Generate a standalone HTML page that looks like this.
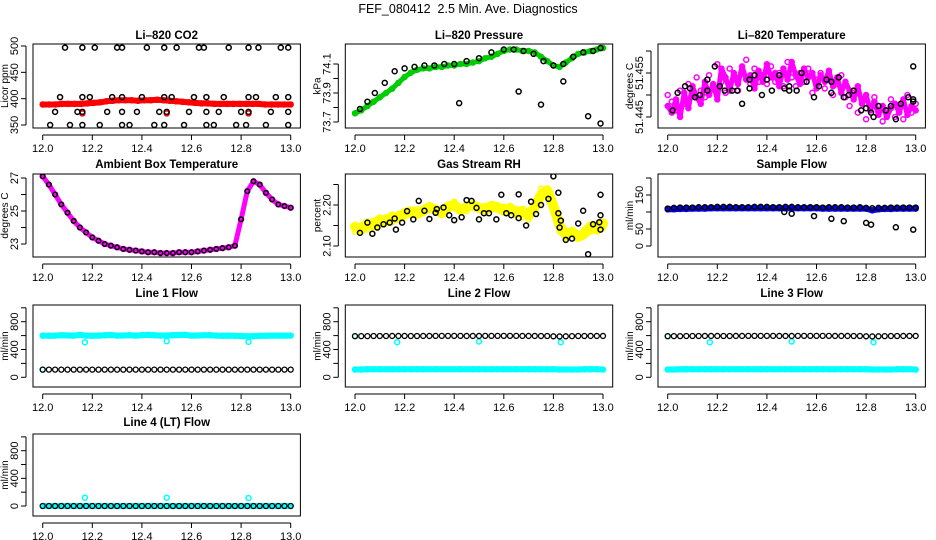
<!DOCTYPE html>
<html><head><meta charset="utf-8"><style>
html,body{margin:0;padding:0;background:#fff}
svg{display:block;font-family:"Liberation Sans",sans-serif}
</style></head><body>
<svg id="c" width="936" height="540" xmlns="http://www.w3.org/2000/svg">
<text x="468" y="13" text-anchor="middle" font-size="12.5">FEF_080412&#160; 2.5 Min. Ave. Diagnostics</text>
</svg>
<script>
// ---- data ----
const xTicks = [12.0, 12.2, 12.4, 12.6, 12.8, 13.0];
const xTickLabels = ["12.0", "12.2", "12.4", "12.6", "12.8", "13.0"];

const co2Red = [389,389,389,390,390,390,390,391,392,393,395,396,397,397,397,396,397,397,398,397,396,395,394,393,392,391,391,390,390,390,390,390,390,390,390,389,389,389,389,389];
const co2BlackX = [12.09,12.16,12.21,12.30,12.32,12.42,12.49,12.54,12.63,12.65,12.75,12.83,12.87,12.96,12.99,
 12.07,12.16,12.19,12.28,12.32,12.40,12.49,12.52,12.61,12.66,12.73,12.83,12.86,12.94,12.99,
 12.05,12.14,12.16,12.26,12.32,12.38,12.47,12.50,12.59,12.66,12.71,12.80,12.83,12.92,12.99,
 12.03,12.11,12.16,12.23,12.32,12.35,12.45,12.49,12.57,12.66,12.69,12.78,12.82,12.90,12.99];
const co2BlackY = [497,497,497,497,497,497,497,497,497,497,497,497,497,497,497,
 403,403,403,403,403,403,403,403,403,403,403,403,403,403,403,
 375,375,375,375,375,375,375,375,375,375,375,375,375,375,375,
 350,350,350,350,350,350,350,350,350,350,350,350,350,350,350];
const co2RedOutX = [12.16,12.50,12.83];
const co2RedOutY = [372,372,372];

const pressGreen = [73.76,73.78,73.81,73.84,73.87,73.90,73.93,73.97,74.01,74.04,74.06,74.07,74.07,74.08,74.08,74.09,74.09,74.10,74.10,74.11,74.12,74.14,74.15,74.17,74.19,74.20,74.20,74.19,74.19,74.18,74.15,74.12,74.09,74.08,74.11,74.14,74.17,74.18,74.19,74.20,74.21];
const pressBlackX = [12.02,12.05,12.08,12.12,12.16,12.2,12.24,12.28,12.32,12.36,12.4,12.45,12.5,12.55,12.6,12.64,12.68,12.72,12.76,12.8,12.84,12.88,12.92,12.96,12.99,12.42,12.66,12.75,12.84,12.94,12.99];
const pressBlackY = [73.79,73.84,73.90,73.97,74.05,74.07,74.08,74.09,74.09,74.10,74.10,74.12,74.14,74.18,74.20,74.20,74.19,74.17,74.12,74.09,74.10,74.15,74.18,74.19,74.21,73.83,73.91,73.82,73.98,73.74,73.69];

const tempMag = [51.4475,51.4460,51.4490,51.4450,51.4505,51.4470,51.4520,51.4495,51.4480,51.4530,51.4500,51.4525,51.4490,51.4560,51.4540,51.4510,51.4550,51.4525,51.4565,51.4535,51.4545,51.4515,51.4555,51.4530,51.4570,51.4540,51.4550,51.4520,51.4560,51.4535,51.4575,51.4545,51.4525,51.4560,51.4540,51.4550,51.4515,51.4545,51.4530,51.4555,51.4520,51.4540,51.4505,51.4530,51.4510,51.4490,51.4520,51.4480,51.4500,51.4465,51.4485,51.4455,51.4475,51.4450,51.4470,51.4480,51.4460,51.4490,51.4455,51.4475,51.4465];
const tempMag2 = [51.4500,51.4485,51.4465,51.4510,51.4480,51.4525,51.4500,51.4540,51.4510,51.4495,51.4545,51.4520,51.4570,51.4530,51.4505,51.4560,51.4535,51.4510,51.4550,51.4580,51.4525,51.4560,51.4530,51.4545,51.4525,51.4565,51.4530,51.4550,51.4520,51.4575,51.4540,51.4520,51.4550,51.4530,51.4560,51.4505,51.4535,51.4550,51.4515,51.4540,51.4500,51.4525,51.4545,51.4495,51.4475,51.4505,51.4460,51.4490,51.4445,51.4470,51.4495,51.4475,51.4440,51.4465,51.4490,51.4450,51.4475,51.4445,51.4500,51.4460,51.4480];
const tempBlackX = [12.02,12.04,12.07,12.09,12.11,12.13,12.16,12.16,12.19,12.21,12.23,12.26,12.28,12.30,12.33,12.33,12.35,12.38,12.40,12.42,12.45,12.47,12.49,12.49,12.52,12.54,12.56,12.59,12.61,12.64,12.66,12.66,12.69,12.71,12.73,12.75,12.78,12.80,12.82,12.83,12.85,12.88,12.90,12.92,12.94,12.97,12.99,12.99,12.99];
const tempBlackY = [51.4465,51.4505,51.4520,51.4515,51.4495,51.4500,51.4510,51.4535,51.4565,51.4520,51.4510,51.4510,51.4510,51.4480,51.4515,51.4535,51.4545,51.4500,51.4535,51.4510,51.4545,51.4515,51.4510,51.4520,51.4510,51.4550,51.4530,51.4495,51.4520,51.4535,51.4530,51.4505,51.4540,51.4495,51.4500,51.4510,51.4465,51.4470,51.4460,51.4450,51.4475,51.4465,51.4475,51.4445,51.4480,51.4495,51.4490,51.4565,51.4485];

const ambient = [27.1,26.6,26.0,25.4,24.9,24.4,24.0,23.7,23.4,23.2,23.0,22.9,22.8,22.7,22.65,22.6,22.55,22.5,22.5,22.45,22.45,22.45,22.5,22.5,22.5,22.55,22.6,22.65,22.7,22.75,22.8,22.9,24.5,26.2,26.8,26.6,26.1,25.7,25.4,25.3,25.2];

const rhYellow = [2.147,2.140,2.155,2.150,2.165,2.160,2.172,2.168,2.180,2.185,2.178,2.186,2.195,2.188,2.180,2.196,2.200,2.188,2.195,2.200,2.193,2.188,2.198,2.194,2.186,2.193,2.180,2.186,2.175,2.195,2.225,2.236,2.197,2.150,2.127,2.135,2.122,2.130,2.148,2.140,2.155];
const rhYellow2 = [2.135,2.150,2.140,2.162,2.150,2.170,2.158,2.178,2.172,2.175,2.190,2.180,2.200,2.182,2.192,2.188,2.208,2.195,2.185,2.205,2.188,2.198,2.188,2.200,2.196,2.185,2.190,2.170,2.165,2.205,2.240,2.225,2.185,2.135,2.120,2.128,2.130,2.140,2.135,2.152,2.145];
const rhBlackX = [12.02,12.05,12.07,12.09,12.115,12.14,12.16,12.165,12.19,12.21,12.235,12.257,12.28,12.30,12.325,12.33,12.357,12.38,12.40,12.43,12.45,12.47,12.49,12.50,12.52,12.54,12.57,12.59,12.61,12.63,12.66,12.66,12.69,12.71,12.73,12.75,12.78,12.80,12.82,12.82,12.83,12.825,12.85,12.875,12.90,12.92,12.94,12.96,12.985,12.99,12.99,12.99];
const rhBlackY = [2.132,2.157,2.130,2.145,2.153,2.157,2.167,2.140,2.157,2.185,2.165,2.210,2.186,2.166,2.181,2.190,2.194,2.175,2.163,2.170,2.212,2.210,2.193,2.165,2.180,2.180,2.165,2.225,2.180,2.175,2.168,2.226,2.150,2.208,2.178,2.200,2.215,2.270,2.230,2.180,2.162,2.145,2.115,2.118,2.155,2.186,2.080,2.153,2.158,2.225,2.140,2.175];

const sampleBlue = [108,108,109,109,110,110,110,111,111,111,111,111,111,111,111,111,111,111,111,111,111,111,111,111,111,110,110,110,110,110,110,110,110,105,108,109,109,110,110,110,110];
const sampleBlack = [110,112,113,113,113,114,114,114,115,115,115,114,114,114,115,115,115,114,114,115,115,114,114,114,114,113,114,114,114,113,113,114,112,111,112,112,113,113,113,113,113];
const sampleOutX = [12.47,12.50,12.59,12.66,12.71,12.80,12.82,12.92,12.99];
const sampleOutY = [100,95,88,80,73,68,63,55,48];

const line1Cyan = [600,598,600,605,602,600,610,600,598,600,605,608,600,602,605,600,606,610,604,600,602,606,608,610,600,602,605,606,600,598,600,596,594,590,592,596,598,600,600,600,600];
const line1Black = [110,110,110,110,110,110,110,110,110,110,110,110,110,110,110,110,110,110,110,110,110,110,110,110,110,110,110,110,110,110,110,110,110,110,110,110,110,110,110,110,110];
const line2Black = [592,592,592,594,594,594,595,595,595,594,594,595,595,596,596,596,596,596,595,595,595,596,596,596,596,596,596,595,595,595,594,594,590,588,590,592,594,594,595,595,595];
const line2Cyan = [112,112,115,115,115,115,115,115,115,115,115,115,115,115,115,115,115,115,115,115,115,115,115,115,115,115,115,115,115,115,115,115,115,112,112,112,112,115,115,115,112];
const lineOutX = [12.0,12.17,12.5,12.83];
const line2OutY = [590,505,515,505];
const line1OutY = [110,505,520,510];
const line4Zero = [0,0,0,0,0,0,0,0,0,0,0,0,0,0,0,0,0,0,0,0,0,0,0,0,0,0,0,0,0,0,0,0,0,0,0,0,0,0,0,0,0];
const line4OutX = [12.17,12.5,12.83];
const line4OutY = [120,120,115];

// ---- drawing ----
const svg = document.getElementById('c');
const NS = 'http://www.w3.org/2000/svg';
function mk(tag, attrs, parent) {
  const e = document.createElementNS(NS, tag);
  for (const k in attrs) e.setAttribute(k, attrs[k]);
  (parent || svg).appendChild(e);
  return e;
}
const cols = [42.7, 355, 667.7];
const rows = [[44,128,35],[174,257,164],[305,387,293],[434,516,422]];
const XSPAN = 248;

function idxX(n, i) { return 12 + i / (n - 1); }

function panel(cfg) {
  const g = mk('g', {});
  
  
  const x0 = cols[cfg.col];
  const [top, bot, ty] = rows[cfg.row];
  const left = x0 - 9.7, right = x0 + XSPAN + 9.7;
  const sx = v => x0 + (v - 12) * XSPAN;
  const k = (cfg.y2 - cfg.y1) / (cfg.v2 - cfg.v1);
  const sy = v => cfg.y1 + (v - cfg.v1) * k;
  const t = mk('text', {x: (left + right) / 2, y: ty + 4, 'text-anchor': 'middle', 'font-size': 11.5, 'font-weight': 'bold'}, g);
  t.textContent = cfg.title;
  
  
  const clipId = 'clip' + cfg.name;
  const cp = mk('clipPath', {id: clipId}, g);
  mk('rect', {x: left, y: top, width: right - left, height: bot - top}, cp);
  const plot = mk('g', {'clip-path': 'url(#' + clipId + ')'}, g);
  cfg.series.forEach(s => {
    const n = s.y.length;
    const xs = s.x ? s.x : s.y.map((_, i) => idxX(n, i));
    const sg = mk('g', {}, plot);
    
    
    if (s.band) {
      const pts = s.y.map((v, i) => sx(xs[i]).toFixed(1) + ',' + sy(v).toFixed(1)).join(' ');
      mk('polyline', {points: pts, fill: 'none', stroke: s.color, 'stroke-width': s.band, 'stroke-linejoin': 'round', 'stroke-linecap': 'round'}, sg);
    }
    s.y.forEach((v, i) => {
      const c = mk('circle', {cx: sx(xs[i]), cy: sy(v), r: s.r || 2.5, fill: 'none', stroke: s.color, 'stroke-width': s.sw || 1.5}, sg);
      
      
    });
  });
  mk('rect', {x: left, y: top, width: right - left, height: bot - top, fill: 'none', stroke: '#000', 'stroke-width': 1}, g);
  const xa = mk('g', {}, g);
  
  
  mk('line', {x1: sx(12), x2: sx(13), y1: bot + 7, y2: bot + 7, stroke: '#000'}, xa);
  xTicks.forEach((v, i) => {
    mk('line', {x1: sx(v), x2: sx(v), y1: bot + 7, y2: bot + 12, stroke: '#000'}, xa);
    const tl = mk('text', {x: sx(v), y: bot + 24, 'text-anchor': 'middle', 'font-size': 11}, xa);
    tl.textContent = xTickLabels[i];
  });
  const ya = mk('g', {}, g);
  
  
  const ax = left - 7;
  mk('line', {x1: ax, x2: ax, y1: sy(cfg.ticks[0]), y2: sy(cfg.ticks[cfg.ticks.length - 1]), stroke: '#000'}, ya);
  cfg.ticks.forEach((v, i) => {
    mk('line', {x1: ax - 5, x2: ax, y1: sy(v), y2: sy(v), stroke: '#000'}, ya);
    if (cfg.labels[i]) {
      const tl = mk('text', {x: 0, y: 0, 'text-anchor': 'middle', 'font-size': 11, transform: 'translate(' + (ax - 8) + ',' + sy(v) + ') rotate(-90)'}, ya);
      tl.textContent = cfg.labels[i];
    }
  });
  const yl = mk('text', {x: 0, y: 0, 'text-anchor': 'middle', 'font-size': 10, transform: 'translate(' + (left - 25) + ',' + ((top + bot) / 2) + ') rotate(-90)'}, g);
  yl.textContent = cfg.ylab;
  
  
}

panel({name:'co2-panel', col:0,row:0,title:'Li–820 CO2',ylab:'Licor ppm',v1:500,y1:46,v2:350,y2:125,
  ticks:[350,400,450,500],labels:['350','400','450','500'],
  series:[{name:'co2-series',y:co2Red,color:'#f00',band:6},
          {name:'co2-red-outliers',x:co2RedOutX,y:co2RedOutY,color:'#f00'},
          {name:'co2-black',x:co2BlackX,y:co2BlackY,color:'#000'}]});
panel({name:'pressure-panel', col:1,row:0,title:'Li–820 Pressure',ylab:'kPa',v1:74.1,y1:64,v2:73.7,y2:122,
  ticks:[73.7,73.8,73.9,74.0,74.1],labels:['73.7','','73.9','','74.1'],
  series:[{name:'pressure-series',y:pressGreen,color:'#00cd00',band:5},
          {name:'pressure-black',x:pressBlackX,y:pressBlackY,color:'#000'}]});
panel({name:'temperature-panel', col:2,row:0,title:'Li–820 Temperature',ylab:'degrees C',v1:51.455,y1:73,v2:51.445,y2:117,
  ticks:[51.445,51.45,51.455,51.46],labels:['51.445','','51.455',''],
  series:[{name:'temperature-series',y:tempMag,color:'#f0f',band:5},
          {name:'temperature-series-2',y:tempMag2,color:'#f0f'},
          {name:'temperature-black',x:tempBlackX,y:tempBlackY,color:'#000'}]});
panel({name:'ambient-panel', col:0,row:1,title:'Ambient Box Temperature',ylab:'degrees C',v1:27,y1:178,v2:23,y2:244,
  ticks:[23,24,25,26,27],labels:['23','','25','','27'],
  series:[{name:'ambient-series',y:ambient,color:'#f0f',band:5},
          {name:'ambient-black',y:ambient,color:'#000',r:2.2}]});
panel({name:'rh-panel', col:1,row:1,title:'Gas Stream RH',ylab:'percent',v1:2.20,y1:205,v2:2.10,y2:246,
  ticks:[2.10,2.15,2.20,2.25],labels:['2.10','','2.20',''],
  series:[{name:'rh-series',y:rhYellow,color:'#ff0',band:10},
          {name:'rh-series-2',y:rhYellow2,color:'#ff0'},
          {name:'rh-black',x:rhBlackX,y:rhBlackY,color:'#000'}]});
panel({name:'sample-flow-panel', col:2,row:1,title:'Sample Flow',ylab:'ml/min',v1:150,y1:195,v2:0,y2:246,
  ticks:[0,50,100,150,200],labels:['0','50','','150',''],
  series:[{name:'sample-flow-series',y:sampleBlue,color:'#00f',band:6},
          {name:'sample-flow-black',y:sampleBlack,color:'#000'},
          {name:'sample-flow-outliers',x:sampleOutX,y:sampleOutY,color:'#000'}]});
const flowTicks=[0,200,400,600,800,1000], flowLabels=['0','','400','','800',''];
panel({name:'line1-panel', col:0,row:2,title:'Line 1 Flow',ylab:'ml/min',v1:800,y1:321.7,v2:0,y2:377.3,
  ticks:flowTicks,labels:flowLabels,
  series:[{name:'line1-cyan',y:line1Cyan,color:'#0ff',band:6},
          {name:'line1-cyan-out',x:lineOutX,y:line1OutY,color:'#0ff'},
          {name:'line1-black',y:line1Black,color:'#000',sw:1.3}]});
panel({name:'line2-panel', col:1,row:2,title:'Line 2 Flow',ylab:'ml/min',v1:800,y1:321.7,v2:0,y2:377.3,
  ticks:flowTicks,labels:flowLabels,
  series:[{name:'line2-cyan',y:line2Cyan,color:'#0ff',band:6},
          {name:'line2-cyan-out',x:lineOutX,y:line2OutY,color:'#0ff'},
          {name:'line2-black',y:line2Black,color:'#000',sw:1.3}]});
panel({name:'line3-panel', col:2,row:2,title:'Line 3 Flow',ylab:'ml/min',v1:800,y1:321.7,v2:0,y2:377.3,
  ticks:flowTicks,labels:flowLabels,
  series:[{name:'line3-cyan',y:line2Cyan,color:'#0ff',band:6},
          {name:'line3-cyan-out',x:lineOutX,y:line2OutY,color:'#0ff'},
          {name:'line3-black',y:line2Black,color:'#000',sw:1.3}]});
panel({name:'line4-panel', col:0,row:3,title:'Line 4 (LT) Flow',ylab:'ml/min',v1:800,y1:450.7,v2:0,y2:506,
  ticks:flowTicks,labels:flowLabels,
  series:[{name:'line4-cyan',y:line4Zero,color:'#0ff',band:6},
          {name:'line4-cyan-out',x:line4OutX,y:line4OutY,color:'#0ff'},
          {name:'line4-black',y:line4Zero,color:'#000',sw:1.3}]});
</script>
</body></html>
